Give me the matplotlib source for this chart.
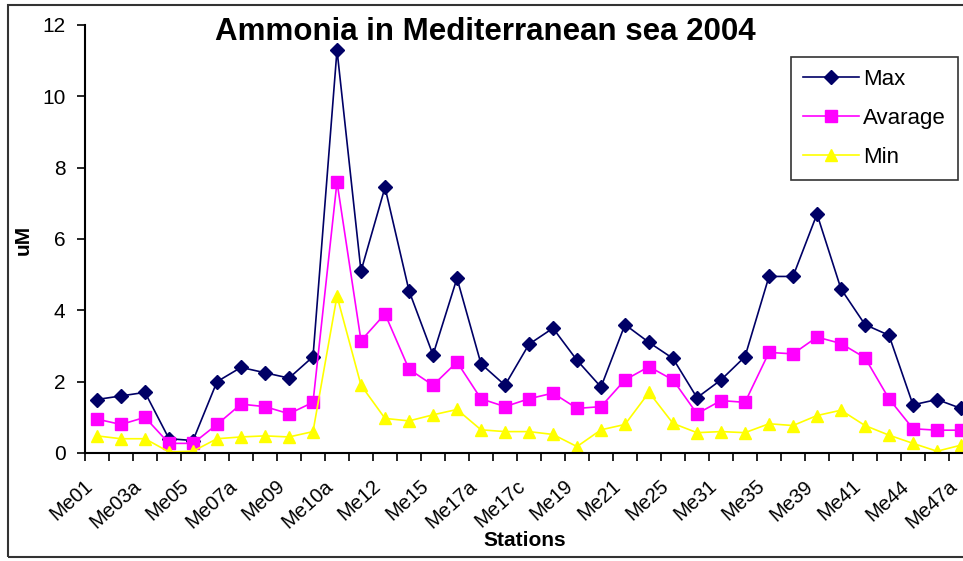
import matplotlib.pyplot as plt
import matplotlib.transforms as mtransforms
import numpy as np
from matplotlib.patches import Rectangle

plt.rcParams['font.family'] = ['Liberation Sans', 'DejaVu Sans']

# ammonia per station (uM), 37 stations, every second one labelled
station_labels = ['Me01', 'Me03a', 'Me05', 'Me07a', 'Me09', 'Me10a', 'Me12', 'Me15',
                  'Me17a', 'Me17c', 'Me19', 'Me21', 'Me25', 'Me31', 'Me35', 'Me39',
                  'Me41', 'Me44', 'Me47a']
max_vals = [1.5, 1.6, 1.7, 0.4, 0.35, 2.0, 2.4, 2.25, 2.1, 2.7, 11.3,
            5.1, 7.45, 4.55, 2.75, 4.9, 2.5, 1.9, 3.05, 3.5, 2.6, 1.85, 3.6,
            3.1, 2.65, 1.55, 2.05, 2.7, 4.95, 4.95, 6.7, 4.6, 3.6, 3.3,
            1.35, 1.5, 1.25]
avg_vals = [0.95, 0.8, 1.0, 0.27, 0.27, 0.8, 1.37, 1.3, 1.1, 1.42, 7.6,
            3.15, 3.9, 2.35, 1.9, 2.55, 1.52, 1.3, 1.52, 1.68, 1.25, 1.3, 2.05,
            2.42, 2.05, 1.1, 1.47, 1.42, 2.82, 2.78, 3.25, 3.07, 2.67, 1.52,
            0.68, 0.64, 0.64]
min_vals = [0.48, 0.4, 0.4, 0.03, 0.05, 0.4, 0.45, 0.48, 0.45, 0.6, 4.4,
            1.9, 0.97, 0.9, 1.07, 1.22, 0.65, 0.6, 0.6, 0.52, 0.18, 0.65, 0.8,
            1.7, 0.83, 0.57, 0.6, 0.57, 0.82, 0.77, 1.05, 1.2, 0.77, 0.5,
            0.27, 0.05, 0.22]

n = len(max_vals)
x = np.arange(n)

fig = plt.figure(figsize=(9.63, 5.61), dpi=100)
ax = fig.add_axes([85/963, 1-453/561, (973-85)/963, 428/561])

ax.plot(x, max_vals, color='#000066', lw=1.2, marker='D', ms=7, label='Max')
ax.plot(x, avg_vals, color='#ff00ff', lw=1.2, marker='s', ms=8.5, label='Avarage')
ax.plot(x, min_vals, color='#ffff00', lw=1.2, marker='^', ms=8.5, label='Min')

ax.set_xlim(-0.5, n - 0.5)
ax.set_ylim(0, 12)
ax.set_yticks(range(0, 13, 2))
ax.tick_params(axis='y', direction='out', length=6, width=1.2, labelsize=15, pad=8)

ax.set_xticks(x[::2])
ax.set_xticklabels(station_labels, rotation=42, ha='right', va='top',
                   rotation_mode='anchor', fontsize=14.5)
ax.set_xticks(np.arange(-0.5, n, 1), minor=True)
ax.tick_params(axis='x', which='major', length=0, pad=17)
ax.tick_params(axis='x', which='minor', direction='out', length=6, width=1.2)
# nudge the slanted station names a little to the left
shift = mtransforms.ScaledTranslation(-0.13, 0, fig.dpi_scale_trans)
for lbl in ax.get_xticklabels():
    lbl.set_transform(lbl.get_transform() + shift)

for s in ['top', 'right']:
    ax.spines[s].set_visible(False)
for s in ['left', 'bottom']:
    ax.spines[s].set_linewidth(1.5)

fig.text(485/963, 1-32/561, 'Ammonia in Mediterranean sea 2004',
         fontsize=22.5, fontweight='bold', ha='center', va='center')
fig.text(525/963, 1-540/561, 'Stations', fontsize=15, fontweight='bold',
         ha='center', va='center')
fig.text(23/963, 1-240/561, 'uM', fontsize=15, fontweight='bold',
         rotation=90, ha='center', va='center')

leg = ax.legend(loc='upper right', bbox_to_anchor=(958/963, 1-57/561),
                bbox_transform=fig.transFigure, borderaxespad=0, fontsize=16,
                frameon=True, fancybox=False, edgecolor='black', handlelength=2.5,
                handletextpad=0.2, labelspacing=0.8, borderpad=0.55)
leg.get_frame().set_linewidth(1.2)

fig.patches.append(Rectangle((8/963, 1-557/561), 1.0, 552/561,
                             transform=fig.transFigure, fill=False,
                             edgecolor='#333333', lw=1.5))

fig.savefig('out.png', dpi=100)
